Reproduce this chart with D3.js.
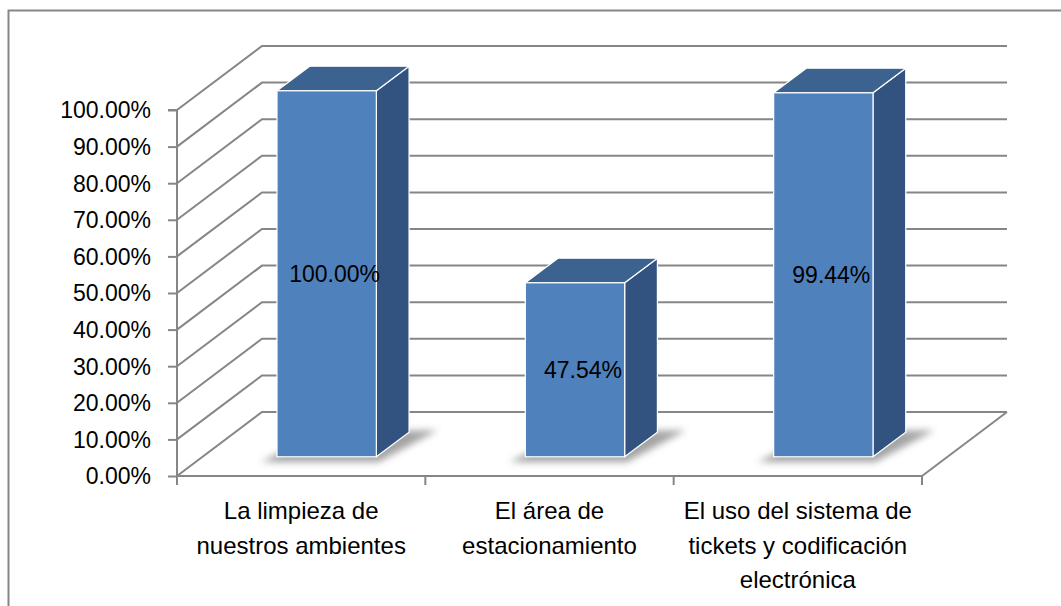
<!DOCTYPE html>
<html>
<head>
<meta charset="utf-8">
<script src="https://cdn.jsdelivr.net/npm/d3@7"></script>
<style>
  html, body { margin: 0; padding: 0; background: #fff; }
  svg { display: block; font-family: "Liberation Sans", Arial, sans-serif; }
</style>
</head>
<body>
<svg id="chart" width="1061" height="606"></svg>
<script>
// Survey results: share of positive answers per aspect
const categories = [
  ["La limpieza de", "nuestros ambientes"],
  ["El área de", "estacionamiento"],
  ["El uso del sistema de", "tickets y codificación", "electrónica"]
];
const values = [1.0, 0.4754, 0.9944];
const yTicks = [0, 0.1, 0.2, 0.3, 0.4, 0.5, 0.6, 0.7, 0.8, 0.9, 1.0];

const svg = d3.select("#chart");
const W = 1061, H = 606;

// Plot frame (front plane) and oblique depth offset of the back wall
const plot = { left: 177, right: 922, bottom: 476, top: 110 };
const depth = { dx: 85, dy: -64 };
const barFront = 0.3;   // bar front face, as a fraction of the depth
const barDepth = 0.385; // bar thickness, as a fraction of the depth

const x = d3.scaleBand()
  .domain(d3.range(categories.length))
  .range([plot.left, plot.right])
  .paddingInner(0.6)
  .paddingOuter(0.3);

const y = d3.scaleLinear().domain([0, 1]).range([plot.bottom, plot.top]);

const fmt = d3.format(".2%");
const gridColor = "#868686";

// Outer chart border
svg.append("rect")
  .attr("x", 8.5).attr("y", 10.5)
  .attr("width", W + 20).attr("height", H + 20)
  .attr("fill", "none").attr("stroke", gridColor).attr("stroke-width", 2);

// Projection of a point (x, y) in the front plane pushed d into the depth
const P = (px, py, d) => [px + depth.dx * d, py + depth.dy * d];

const defs = svg.append("defs");
defs.append("filter").attr("id", "soft")
  .attr("x", "-30%").attr("y", "-50%").attr("width", "160%").attr("height", "200%")
  .append("feGaussianBlur").attr("stdDeviation", 3.5);

// Floor and wall gridlines
const grid = svg.append("g").attr("fill", "none").attr("stroke", gridColor).attr("stroke-width", 2);
yTicks.forEach(t => {
  const a = P(plot.left, y(t), 0), b = P(plot.left, y(t), 1), c = P(plot.right, y(t), 1);
  grid.append("path").attr("d", d3.line()([a, b, c]));
});
// floor right edge
grid.append("path").attr("d", d3.line()([P(plot.right, y(0), 0), P(plot.right, y(0), 1)]));

// Value axis on the left
const yAxis = d3.axisLeft(y).tickValues(yTicks).tickFormat(fmt).tickSize(9).tickPadding(17);
const ya = svg.append("g").attr("transform", `translate(${plot.left},0)`).call(yAxis);
ya.select(".domain").attr("stroke", gridColor).attr("stroke-width", 2).attr("d", `M-9,${plot.top}H0V${plot.bottom}`);
ya.selectAll(".tick line").attr("stroke", gridColor).attr("stroke-width", 2);
ya.selectAll(".tick text").attr("font-size", 23).attr("fill", "#000")
  .attr("font-family", "Liberation Sans, Arial, sans-serif").attr("dy", "0.34em");

// Category axis along the front of the floor
const catEdges = d3.range(categories.length + 1).map(i => plot.left + x.step() * i);
const xa = svg.append("g");
xa.append("line")
  .attr("x1", plot.left).attr("x2", plot.right)
  .attr("y1", plot.bottom).attr("y2", plot.bottom)
  .attr("stroke", gridColor).attr("stroke-width", 2);
xa.selectAll("line.tick").data(catEdges).join("line")
  .attr("class", "tick")
  .attr("x1", d => d).attr("x2", d => d)
  .attr("y1", plot.bottom).attr("y2", plot.bottom + 9)
  .attr("stroke", gridColor).attr("stroke-width", 2);

const labels = svg.append("g").attr("font-size", 24).attr("fill", "#000").attr("text-anchor", "middle");
categories.forEach((lines, i) => {
  const cx = x(i) + x.bandwidth() / 2;
  const t = labels.append("text").attr("x", cx).attr("y", 511);
  lines.forEach((ln, k) => {
    t.append("tspan").attr("x", cx).attr("y", 511 + k * 34.5).attr("dy", "0.35em").text(ln);
  });
});

// 3D bars
const bars = svg.append("g");
values.forEach((v, i) => {
  const x0 = x(i), x1 = x(i) + x.bandwidth();
  const y0 = y(0), y1 = y(v);
  const f = barFront, b = barFront + barDepth;
  const g = bars.append("g");

  // soft shadow on the floor around the bar footprint
  g.append("path")
    .attr("d", d3.line()([
      P(x0 - 14, y0 + 4, f - 0.02), P(x1 + 4, y0 + 4, f - 0.02),
      P(x1 + 26, y0, b + 0.03), P(x0 + 10, y0, b)
    ]) + "Z")
    .attr("fill", "#4a4a4a").attr("opacity", 0.5).attr("filter", "url(#soft)");

  // side face
  g.append("path")
    .attr("d", d3.line()([P(x1, y0, f), P(x1, y0, b), P(x1, y1, b), P(x1, y1, f)]) + "Z")
    .attr("fill", "#325380").attr("stroke", "#fff").attr("stroke-width", 1.2).attr("stroke-linejoin", "round");
  // top face
  g.append("path")
    .attr("d", d3.line()([P(x0, y1, f), P(x1, y1, f), P(x1, y1, b), P(x0, y1, b)]) + "Z")
    .attr("fill", "#3c6290").attr("stroke", "#fff").attr("stroke-width", 1.2).attr("stroke-linejoin", "round");
  // front face
  const fa = P(x0, y1, f), fb = P(x1, y0, f);
  g.append("rect")
    .attr("x", fa[0]).attr("y", fa[1])
    .attr("width", fb[0] - fa[0]).attr("height", fb[1] - fa[1])
    .attr("fill", "#4f81bd").attr("stroke", "#fff").attr("stroke-width", 1.2);

  // value label in the middle of the front face
  g.append("text")
    .attr("x", (fa[0] + fb[0]) / 2 + 8)
    .attr("y", (fa[1] + fb[1]) / 2)
    .attr("dy", "0.35em")
    .attr("text-anchor", "middle")
    .attr("font-size", 23).attr("fill", "#000")
    .text(fmt(v));
});
</script>
</body>
</html>
